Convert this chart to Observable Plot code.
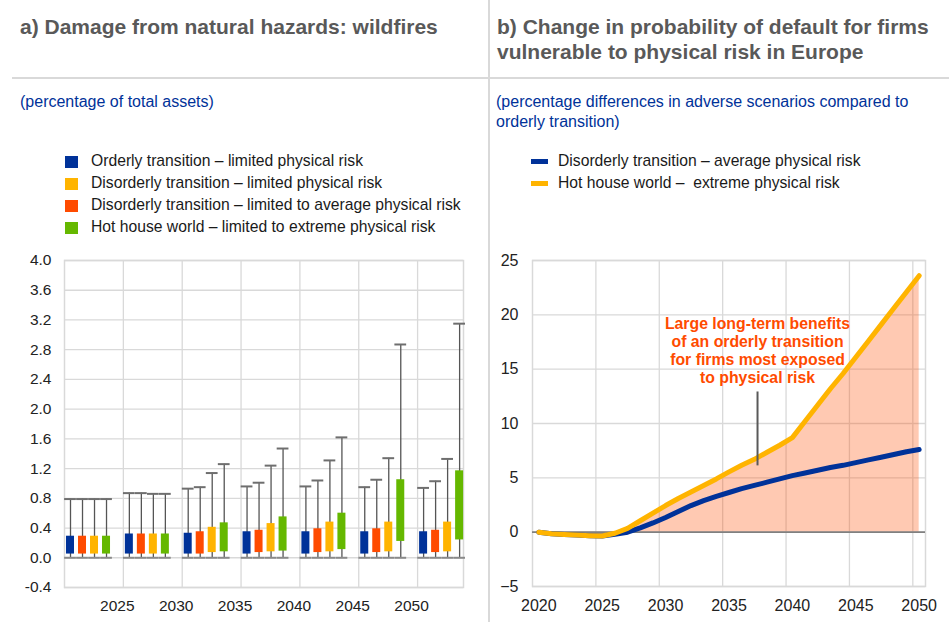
<!DOCTYPE html>
<html><head><meta charset="utf-8">
<script src="https://cdn.jsdelivr.net/npm/d3@7"></script>
<script src="https://cdn.jsdelivr.net/npm/@observablehq/plot@0.6"></script>
<style>
body{margin:0;background:#fff;}
#page{position:relative;width:949px;height:622px;overflow:hidden;font-family:"Liberation Sans",Arial,sans-serif;}
.abs{position:absolute;white-space:nowrap;}
.title{font-size:21px;font-weight:bold;color:#595959;line-height:25px;}
.sub{font-size:16px;color:#003299;line-height:20px;}
.leg{font-size:15.7px;color:#1a1a1a;line-height:22px;}
.sw{position:absolute;}
</style></head>
<body><div id="page">
<div class="abs" style="left:488px;top:0;width:2px;height:622px;background:#d9d9d9"></div>
<div class="abs" style="left:12px;top:76.7px;width:937px;height:2px;background:#d9d9d9"></div>
<div class="abs title" style="left:20px;top:14.2px">a) Damage from natural hazards: wildfires</div>
<div class="abs title" style="left:497px;top:14.2px">b) Change in probability of default for firms<br>vulnerable to physical risk in Europe</div>
<div class="abs sub" style="left:20px;top:92.45px">(percentage of total assets)</div>
<div class="abs sub" style="left:496px;top:92.45px">(percentage differences in adverse scenarios compared to<br>orderly transition)</div>
<div id="legA"></div><div id="legB"></div>
<div id="chartA" class="abs" style="left:0;top:250px"></div>
<div id="chartB" class="abs" style="left:488px;top:250px"></div>
</div>
<script>
// ---------- Panel a: wildfire damage ----------
const groupYears = [2020, 2025, 2030, 2035, 2040, 2045, 2050];
const xTickYearsA = [2025, 2030, 2035, 2040, 2045, 2050];
const yTicksA = [-0.4, 0.0, 0.4, 0.8, 1.2, 1.6, 2.0, 2.4, 2.8, 3.2, 3.6, 4.0];

// legend order
const legendA = [
  "Orderly transition – limited physical risk",
  "Disorderly transition – limited physical risk",
  "Disorderly transition – limited to average physical risk",
  "Hot house world – limited to extreme physical risk"
];
const legendAColors = ["#003299", "#ffb400", "#ff4b00", "#65b800"];

// bar order in each group (as drawn)
const barSeries = [
  "Orderly transition – limited physical risk",
  "Disorderly transition – limited to average physical risk",
  "Disorderly transition – limited physical risk",
  "Hot house world – limited to extreme physical risk"
];
const barColors = ["#003299", "#ff4b00", "#ffb400", "#65b800"];

const orderlyLow  = [0.05, 0.05, 0.05, 0.05, 0.05, 0.05, 0.05];
const orderlyHigh = [0.29, 0.32, 0.33, 0.35, 0.35, 0.35, 0.35];
const orderlyMax  = [0.79, 0.87, 0.93, 0.96, 0.96, 0.95, 0.94];
const disAvgLow   = [0.05, 0.05, 0.05, 0.07, 0.07, 0.07, 0.07];
const disAvgHigh  = [0.29, 0.32, 0.35, 0.37, 0.39, 0.39, 0.37];
const disAvgMax   = [0.79, 0.87, 0.95, 1.01, 1.04, 1.05, 1.03];
const disLimLow   = [0.05, 0.05, 0.07, 0.08, 0.08, 0.08, 0.08];
const disLimHigh  = [0.29, 0.32, 0.41, 0.46, 0.48, 0.48, 0.48];
const disLimMax   = [0.79, 0.86, 1.14, 1.24, 1.31, 1.34, 1.33];
const hotLow      = [0.05, 0.05, 0.08, 0.09, 0.11, 0.22, 0.24];
const hotHigh     = [0.29, 0.32, 0.47, 0.55, 0.60, 1.05, 1.17];
const hotMax      = [0.79, 0.86, 1.26, 1.47, 1.62, 2.87, 3.15];
const minValue    = [0.0, 0.0, 0.0, 0.0, 0.0, 0.0, 0.0];

const lows  = [orderlyLow, disAvgLow, disLimLow, hotLow];
const highs = [orderlyHigh, disAvgHigh, disLimHigh, hotHigh];
const maxs  = [orderlyMax, disAvgMax, disLimMax, hotMax];

const rowsA = [];
barSeries.forEach((name, s) => groupYears.forEach((year, g) => {
  rowsA.push({name, s, year, low: lows[s][g], high: highs[s][g], max: maxs[s][g], min: minValue[g], color: barColors[s]});
}));
const slot = 1.02, barHalf = 0.34, capHalf = 0.5;
const xc = d => d.year + (d.s + 0.5) * slot;
const grid = "#d9d9d9";
const fontFamily = '"Liberation Sans", Arial, sans-serif';

const chartA = Plot.plot({
  width: 480, height: 372,
  marginLeft: 64, marginRight: 17, marginTop: 10, marginBottom: 35,
  style: {fontFamily, fontSize: "15.5px", color: "#222", background: "transparent", overflow: "visible"},
  x: {type: "linear", domain: [2020, 2053.9]},
  y: {domain: [-0.4, 4.0]},
  color: {type: "identity"},
  marks: [
    Plot.ruleY(yTicksA, {stroke: grid, strokeWidth: 1.3}),
    Plot.ruleX(xTickYearsA, {stroke: grid, strokeWidth: 1.3}),
    Plot.frame({stroke: grid, strokeWidth: 1.5}),
    Plot.ruleX(rowsA, {x: xc, y1: "min", y2: "max", stroke: "#555", strokeWidth: 1.3}),
    Plot.ruleY(rowsA, {y: "max", x1: d => xc(d) - capHalf, x2: d => xc(d) + capHalf, stroke: "#6e6e6e", strokeWidth: 2}),
    Plot.ruleY(rowsA, {y: "min", x1: d => xc(d) - capHalf, x2: d => xc(d) + capHalf, stroke: "#8a8a8a", strokeWidth: 2}),
    Plot.rect(rowsA, {x1: d => xc(d) - barHalf, x2: d => xc(d) + barHalf, y1: "low", y2: "high", fill: "color"}),
    Plot.axisY({ticks: yTicksA, tickSize: 0, tickPadding: 13, tickFormat: d => d.toFixed(1), label: null}),
    Plot.axisX({ticks: xTickYearsA, tickSize: 0, tickPadding: 12, tickFormat: d => String(d), label: null, dx: -6})
  ]
});
document.getElementById("chartA").appendChild(chartA);

// ---------- Panel b: probability of default ----------
const years = [2020,2021,2022,2023,2024,2025,2026,2027,2028,2029,2030,2031,2032,2033,2034,2035,
               2036,2037,2038,2039,2040,2041,2042,2043,2044,2045,2046,2047,2048,2049,2050];
const disorderlyAverage = [0, -0.15, -0.22, -0.27, -0.32, -0.35, -0.2, 0.0, 0.4, 0.85, 1.35,
  1.9, 2.45, 2.9, 3.3, 3.65, 4.0, 4.3, 4.6, 4.9, 5.2, 5.45, 5.7, 5.95, 6.15, 6.4, 6.65, 6.9, 7.15, 7.4, 7.6];
const hotHouseExtreme = [0, -0.15, -0.22, -0.27, -0.32, -0.35, -0.1, 0.35, 1.05, 1.75, 2.45,
  3.1, 3.7, 4.3, 4.9, 5.55, 6.15, 6.7, 7.35, 8.0, 8.7, 10.2, 11.7, 13.2, 14.6, 16.1, 17.6, 19.1, 20.6, 22.1, 23.6];
const xTickYearsB = [2020, 2025, 2030, 2035, 2040, 2045, 2050];
const yTicksB = [-5, 0, 5, 10, 15, 20, 25];
const legendB = ["Disorderly transition – average physical risk", "Hot house world –\u00a0 extreme physical risk"];
const legendBColors = ["#003299", "#ffb400"];
const annotationText = ["Large long-term benefits", "of an orderly transition", "for firms most exposed", "to physical risk"];
const annotationAt = [{year: 2037.25, value: 13.7}];
const pointerAt = [{year: 2037.25, from: 6.1, to: 12.9}];

const rowsB = years.map((year, i) => ({year, avg: disorderlyAverage[i], hot: hotHouseExtreme[i]}));

const chartB = Plot.plot({
  width: 461, height: 372,
  marginLeft: 44, marginRight: 24, marginTop: 10, marginBottom: 36,
  style: {fontFamily, fontSize: "16px", color: "#222", background: "transparent", overflow: "visible"},
  x: {type: "linear", domain: [years[0] - 0.5, years[years.length - 1] + 0.5]},
  y: {domain: [-5, 25]},
  marks: [
    Plot.ruleY(yTicksB, {stroke: grid, strokeWidth: 1.3}),
    Plot.ruleX(xTickYearsB.slice(1), {x: d => d - 0.5, stroke: grid, strokeWidth: 1.3}),
    Plot.frame({stroke: grid, strokeWidth: 1.5}),
    Plot.areaY(rowsB, {x: "year", y: "hot", fill: "#ff4b00", fillOpacity: 0.3}),
    Plot.ruleY([0], {stroke: "#808080", strokeWidth: 1.8}),
    Plot.line(rowsB, {x: "year", y: "avg", stroke: "#003299", strokeWidth: 5}),
    Plot.line(rowsB, {x: "year", y: "hot", stroke: "#ffb400", strokeWidth: 5}),
    Plot.ruleX(pointerAt, {x: "year", y1: "from", y2: "to", stroke: "#595959", strokeWidth: 2}),
    Plot.text(annotationAt, {x: "year", y: "value", text: () => annotationText.join("\n"), lineAnchor: "bottom",
      lineHeight: 18 / 15.8, fontSize: 15.8, fontWeight: "bold", fill: "#ff4b00", textAnchor: "middle"}),
    Plot.axisY({ticks: yTicksB, tickSize: 0, tickPadding: 14, label: null}),
    Plot.axisX({ticks: xTickYearsB, tickSize: 0, tickPadding: 13, tickFormat: d => String(d), label: null})
  ]
});
document.getElementById("chartB").appendChild(chartB);

// ---------- Legends ----------
const legA = document.getElementById("legA");
legendA.forEach((name, i) => {
  const base = 166.7 + i * 22;
  const sw = document.createElement("div");
  sw.className = "sw";
  sw.style.cssText = `left:65px;top:${base - 10.5}px;width:13px;height:12px;background:${legendAColors[i]}`;
  legA.appendChild(sw);
  const t = document.createElement("div");
  t.className = "abs leg";
  t.style.cssText = `left:91px;top:${base - 16.44}px`;
  t.textContent = name;
  legA.appendChild(t);
});
const legB = document.getElementById("legB");
legendB.forEach((name, i) => {
  const base = 166.7 + i * 22;
  const sw = document.createElement("div");
  sw.className = "sw";
  sw.style.cssText = `left:531px;top:${base - 8}px;width:17px;height:5px;background:${legendBColors[i]}`;
  legB.appendChild(sw);
  const t = document.createElement("div");
  t.className = "abs leg";
  t.style.cssText = `left:558px;top:${base - 16.44}px`;
  t.textContent = name;
  legB.appendChild(t);
});
</script>
</body></html>
